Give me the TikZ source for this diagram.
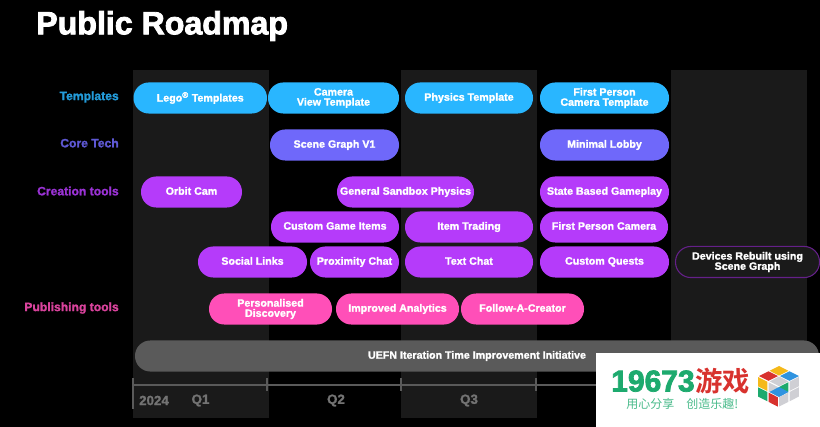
\documentclass[tikz,border=0pt]{standalone}
\usepackage{fontspec}
\setmainfont{Liberation Sans}[BoldFeatures={FakeBold=1.5}]
\newfontfamily\cjkfont{Noto Sans CJK SC}[BoldFont={* Bold}]
\newfontfamily\headfont{Liberation Sans Bold}[FakeBold=2.5]
\definecolor{colband}{HTML}{1A1A1A}
\definecolor{tplblue}{HTML}{29B6FF}
\definecolor{coreblue}{HTML}{6F68FA}
\definecolor{toolpurple}{HTML}{B53BFA}
\definecolor{pubpink}{HTML}{FF4FB8}
\definecolor{timegray}{HTML}{5A5A5A}
\definecolor{logogreen}{HTML}{1DAA6E}
\definecolor{logored}{HTML}{D8322E}
\definecolor{logoyellow}{HTML}{F5B919}
\definecolor{logoblue}{HTML}{2F93E0}
\definecolor{logogray}{HTML}{CFCFD4}
\tikzset{
  pill/.style={rounded corners=11.5pt,minimum height=23.3pt,inner sep=0pt,align=center,text=white,
    font=\fontsize{8}{7.6}\selectfont\bfseries,
    execute at begin node={\vphantom{Ag}},execute at end node={\vphantom{Ag}}},
  rowlabel/.style={anchor=east,font=\fontsize{9.1}{9}\selectfont\bfseries},
  timelabel/.style={text=timegray!85,font=\fontsize{10}{10}\selectfont\bfseries},
  timeline/.style={timegray,line width=1.5pt}
}
\begin{document}
\begin{tikzpicture}[x=0.75pt,y=-0.75pt]
\useasboundingbox (0,0) rectangle (820,427);
\fill[black] (0,0) rectangle (820,427);
\foreach \x in {133,401,671}
\fill[colband] (\x,70) rectangle (\x+135.5,418);
\node[anchor=west,text=white,inner sep=0pt,font=\headfont\fontsize{24.1}{25}\selectfont] (title) at (36,26) {Public Roadmap};
\foreach \name/\y/\col/\txt in {tpl/97/tplblue/Templates, core/143/coreblue/Core Tech, creation/191/toolpurple/Creation tools, publishing/308/pubpink/Publishing tools}
\node[rowlabel,text=\col!85!black,inner sep=0pt] (\name) at (119,\y) {\txt};
\foreach \name/\a/\b/\y/\col/\txt in {
  lego/133.5/267/98/tplblue/{Lego\textsuperscript{®} Templates},
  camview/268/399/98/tplblue/{Camera\\View Template},
  physics/405/533/98/tplblue/{Physics Template},
  fpcamtpl/540/669/98/tplblue/{First Person\\Camera Template},
  graphvone/270/399/145/coreblue/{Scene Graph V1},
  lobby/540/669/145/coreblue/{Minimal Lobby},
  orbit/141/242/192/toolpurple/{Orbit Cam},
  sandbox/337/474/192/toolpurple/{General Sandbox Physics},
  gameplay/540/669/192/toolpurple/{State Based Gameplay},
  items/271/399/227/toolpurple/{Custom Game Items},
  trading/405/533/227/toolpurple/{Item Trading},
  fpcam/540/668/227/toolpurple/{First Person Camera},
  social/198/307/262/toolpurple/{Social Links},
  proximity/310/399/262/toolpurple/{Proximity Chat},
  textchat/405/533/262/toolpurple/{Text Chat},
  quests/540/669/262/toolpurple/{Custom Quests},
  discovery/209/332/309/pubpink/{Personalised\\Discovery},
  analytics/336/459/309/pubpink/{Improved Analytics},
  follow/461/584/309/pubpink/{Follow-A-Creator},
  uefn/135/819/356/timegray/{UEFN Iteration Time Improvement Initiative}}
\node[pill,fill=\col,minimum width={(\b-\a)*0.75pt}] (\name) at ({(\a+\b)/2},\y) {\txt};
\node[pill,fill=colband,draw=toolpurple!55!black,line width=0.8pt,minimum width=108pt] (devices) at (747.5,262) {Devices Rebuilt using\\Scene Graph};
\coordinate (tstart) at (133,384.5);
\coordinate (tend) at (600,384.5);
\draw[timeline] (tstart) -- (tend);
\draw[timeline] (132.5,378) -- (132.5,409);
\foreach \x in {267,401,536}
\draw[timeline] (\x,378) -- (\x,391);
\foreach \name/\x/\txt in {year/154/2024, qone/200.5/Q1, qtwo/336/Q2, qthree/469/Q3}
\node[timelabel,inner sep=0pt] (\name) at (\x,400.5) {\txt};
\fill[white] (596,353) rectangle (820,427);
\node[anchor=west,inner sep=0pt,text=logogreen,font=\headfont\fontsize{22.5}{23}\selectfont] (logonum) at (611,381) {19673\hspace{0.5pt}{\cjkfont\bfseries\fontsize{20.5}{21}\selectfont\textcolor{logored}{游戏}}};
\node[anchor=west,inner sep=0pt,text=logogreen!80,font=\cjkfont\fontsize{9}{9}\selectfont] (slogan) at (626,404) {用心分享\hspace{1em}创造乐趣!};
\foreach \ox/\oy/\ux/\uy/\vx/\vy/\colA/\colB/\colC/\colD in {
  779/366/10.5/5.3/-10.5/5.3/logoyellow/logoblue/logored/logogray,
  758/377/10.5/5.3/0/10.3/logoyellow/logogray/logogreen/logored,
  779/387/10.5/-5.3/0/10.3/logogreen/logogray/logogray/logogray}
\foreach \i/\j/\c in {0/0/\colA,1/0/\colB,0/1/\colC,1/1/\colD}
\fill[\c] (\ox+\i*\ux+\j*\vx,\oy+\i*\uy+\j*\vy) -- ++(0.9*\ux,0.9*\uy) -- ++(0.9*\vx,0.9*\vy) -- ++(-0.9*\ux,-0.9*\uy) -- cycle;
\fill[logoblue] (769.5,392) -- (779,387) -- (788.5,392) -- (779,397) -- cycle;
\end{tikzpicture}
\end{document}
